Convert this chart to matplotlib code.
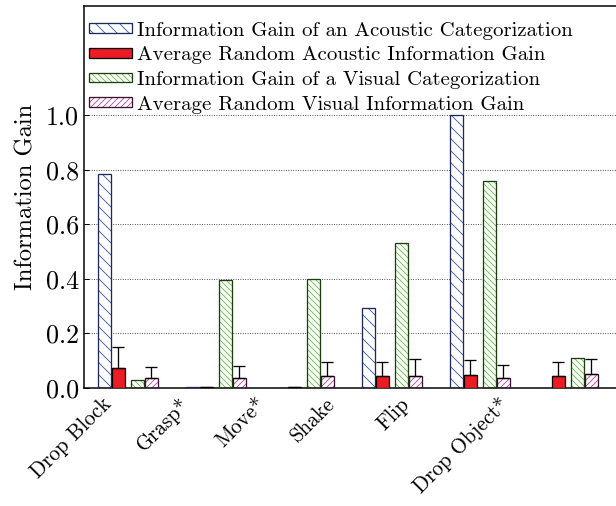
import matplotlib
matplotlib.use("Agg")
import matplotlib.pyplot as plt
import numpy as np

# values
actions = ["Drop Block", "Grasp*", "Move*", "Shake", "Flip", "Drop Object*"]
acoustic_gain = [0.785, 0.002, 0.001, 0.295, 1.0, 0.0]
acoustic_random = [0.073, 0.002, 0.003, 0.044, 0.046, 0.044]
acoustic_random_err = [0.077, np.nan, np.nan, 0.051, 0.058, 0.051]
visual_gain = [0.03, 0.396, 0.398, 0.531, 0.758, 0.109]
visual_random = [0.036, 0.037, 0.044, 0.044, 0.035, 0.052]
visual_random_err = [0.041, 0.045, 0.053, 0.062, 0.048, 0.054]
yticks = [0.0, 0.2, 0.4, 0.6, 0.8, 1.0]

plt.rcParams["font.family"] = "cmr10"
plt.rcParams["mathtext.fontset"] = "cm"
plt.rcParams["axes.formatter.use_mathtext"] = True
plt.rcParams["hatch.linewidth"] = 0.9

FS_Y = 26      # y tick labels
FS_LAB = 24.5  # y axis label
FS_X = 21      # rotated x tick labels
FS_LEG = 20.8  # legend text
fig = plt.figure(figsize=(616 / 72, 506 / 72), dpi=72)
ax = fig.add_axes([84 / 616, 118 / 506, 556 / 616, 382 / 506])

x = np.arange(len(actions))
w = 0.153
offsets = [-0.2585, -0.105, 0.1165, 0.27]


def hatched(xs, vals, col, edge, hatch):
    ax.bar(xs, vals, w, color="white", edgecolor=col, hatch=hatch, linewidth=0, zorder=2)
    ax.bar(xs, vals, w, fill=False, edgecolor=edge, linewidth=1.3, zorder=3)
    h1 = plt.Rectangle((0, 0), 1, 1, facecolor="white", edgecolor=col, hatch=hatch, linewidth=0)
    h2 = plt.Rectangle((0, 0), 1, 1, fill=False, edgecolor=edge, linewidth=1.3)
    return (h1, h2)


blue_h = hatched(x + offsets[0], acoustic_gain, "#3b5fb5", "#1c2a55", "\\\\")
ax.bar(x + offsets[1], acoustic_random, w, color="#ec1c24", edgecolor="black",
       linewidth=1.3, zorder=3)
red_h = plt.Rectangle((0, 0), 1, 1, facecolor="#ec1c24", edgecolor="black", linewidth=1.3)
green_h = hatched(x + offsets[2], visual_gain, "#6cc04a", "#1d3d10", "\\\\\\\\")
pink_h = hatched(x + offsets[3], visual_random, "#c24aa8", "#3a1232", "////")

ax.errorbar(x + offsets[1], acoustic_random, yerr=[np.zeros(6), acoustic_random_err],
            fmt="none", ecolor="black", elinewidth=1.3, capsize=6, capthick=1.3, zorder=4)
ax.errorbar(x + offsets[3], visual_random, yerr=[np.zeros(6), visual_random_err],
            fmt="none", ecolor="black", elinewidth=1.3, capsize=6, capthick=1.3, zorder=4)

ax.set_xlim(-0.494, 5.824)
ax.set_ylim(0, 1.4)
ax.set_yticks(yticks)
ax.set_yticklabels([f"{v:.1f}" for v in yticks], fontsize=FS_Y)
ax.tick_params(axis="y", direction="in", length=5, width=1, pad=5)
ax.set_ylabel("Information Gain", fontsize=FS_LAB, labelpad=8)
ax.yaxis.grid(True, linestyle=(0, (1, 2)), color="black", linewidth=0.8)
ax.set_axisbelow(True)

# label anchor positions as they sit in the picture
label_pos = [-0.143, 0.745, 1.61, 2.40, 3.245, 4.38]
ax.set_xticks(label_pos)
ax.set_xticklabels(actions, rotation=45, ha="right", fontsize=FS_X)
ax.tick_params(axis="x", length=0, pad=6)

for s in ax.spines.values():
    s.set_linewidth(1.5)

leg = ax.legend([blue_h, red_h, green_h, pink_h],
                ["Information Gain of an Acoustic Categorization",
                 "Average Random Acoustic Information Gain",
                 "Information Gain of a Visual Categorization",
                 "Average Random Visual Information Gain"],
                loc="upper left", bbox_to_anchor=(0, 0.972), frameon=False,
                fontsize=FS_LEG, handlelength=2.07, handleheight=0.34,
                handletextpad=0.25, labelspacing=0.32, borderpad=0.24,
                borderaxespad=0)

fig.savefig("out.png", dpi=72)
